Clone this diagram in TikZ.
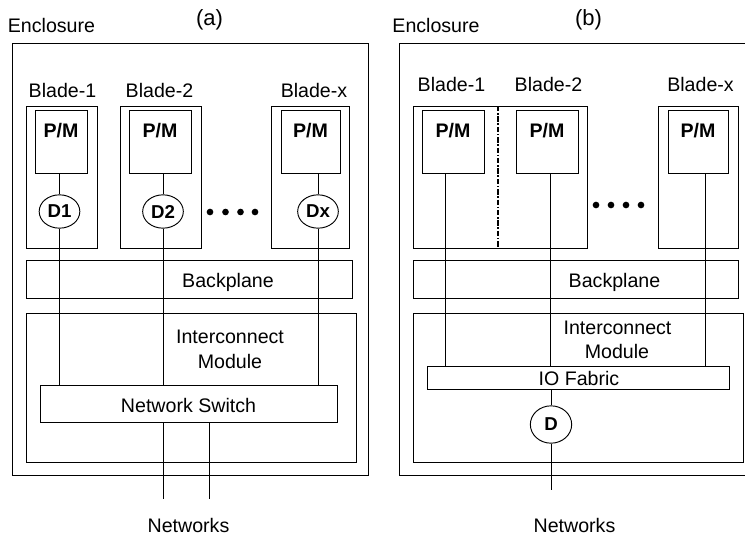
\documentclass[tikz,border=0pt]{standalone}
\usepackage{fontspec}
\setmainfont{Liberation Sans}
\usetikzlibrary{fit,shapes.geometric,calc}
\newcommand{\dfont}{\fontsize{14.7}{17.5}\selectfont}
\newcommand{\tfont}{\fontsize{16.5}{19}\selectfont}
\newcommand{\efont}{\fontsize{14}{16}\selectfont}
\begin{document}
\begin{tikzpicture}[x=0.75pt,y=-0.75pt,
  every node/.style={font=\dfont},
  line/.style={line width=0.7pt},
  box/.style={draw, line width=0.7pt, inner sep=0pt, fit={#1}},
  lbl/.style={anchor=base, inner sep=0pt},
  tlbl/.style={anchor=base, inner sep=0pt, font=\tfont},
  blbl/.style={anchor=base, inner sep=0pt, font=\dfont\bfseries},
  dnode/.style={draw, ellipse, line width=0.7pt, inner sep=0pt, minimum width=30.5pt, minimum height=25pt, font=\efont\bfseries, fill=white},
  dotn/.style={circle, fill=black, inner sep=0pt, minimum size=5pt},
  sep/.style={line width=1.1pt, dash pattern=on 4pt off 1.3pt on 1.2pt off 1.3pt}
]
\useasboundingbox (0,0) rectangle (745,536);

% ================= (a) =================
\node[lbl] (enca) at (51.5,32) {Enclosure};
\node[tlbl] (tita) at (209.5,25) {(a)};
\node[box={(12,43) (368,475)}] (encla) {};

\node[lbl] (bl1a) at (62.5,97) {Blade-1};
\node[lbl] (bl2a) at (159.5,97) {Blade-2};
\node[lbl] (blxa) at (314,97) {Blade-x};

\node[box={(26,106) (97,248)}] (b1a) {};
\node[box={(120,106) (201,248)}] (b2a) {};
\node[box={(271,106) (349,248)}] (bxa) {};

\node[box={(35,110) (87,173)}] (pm1a) {};
\node[box={(129,110) (191,173)}] (pm2a) {};
\node[box={(281,110) (340,173)}] (pmxa) {};
\node[blbl] (pm1at) at (61,137) {P/M};
\node[blbl] (pm2at) at (160,137) {P/M};
\node[blbl] (pmxat) at (310.5,137) {P/M};

\node[dnode] (d1) at (59.5,211.5) {D1};
\node[dnode] (d2) at (163,211.5) {D2};
\node[dnode] (dx) at (318,211.5) {Dx};

\node[dotn] (da1) at (210,212) {};
\node[dotn] (da2) at (225.5,212) {};
\node[dotn] (da3) at (240.5,212) {};
\node[dotn] (da4) at (255,212) {};

\node[box={(26,260) (352,298)}] (bpa) {};
\node[lbl] (bpat) at (228,287) {Backplane};

\node[box={(26,313) (356,462)}] (ima) {};
\node[lbl] (imat1) at (230,343) {Interconnect};
\node[lbl] (imat2) at (230,368) {Module};

\node[box={(40,385) (337,422)}] (nsa) {};
\node[lbl] (nsat) at (188.5,412) {Network Switch};

\node[lbl] (neta) at (188.5,532) {Networks};
\coordinate (na1) at (163,499);
\coordinate (na2) at (209,499);

\draw[line] (d1.north |- pm1a.south) -- (d1.north);
\draw[line] (d2.north |- pm2a.south) -- (d2.north);
\draw[line] (dx.north |- pmxa.south) -- (dx.north);
\draw[line] (d1.south) -- (d1.south |- nsa.north);
\draw[line] (d2.south) -- (d2.south |- nsa.north);
\draw[line] (dx.south) -- (dx.south |- nsa.north);
\draw[line] (na1 |- nsa.south) -- (na1);
\draw[line] (na2 |- nsa.south) -- (na2);

% ================= (b) =================
\node[lbl] (encb) at (436,32) {Enclosure};
\node[tlbl] (titb) at (588.5,25) {(b)};
\node[box={(399,43) (770,475)}] (enclb) {};

\node[lbl] (bl1b) at (451.5,91) {Blade-1};
\node[lbl] (bl2b) at (548.5,91) {Blade-2};
\node[lbl] (blxb) at (700.5,91) {Blade-x};

\node[box={(413,106) (587,248)}] (b12b) {};
\node[box={(658,106) (738,248)}] (bxb) {};
\coordinate (sept) at (498,106);
\coordinate (sepb) at (498,248);
\draw[sep] (sept) -- (sepb);

\node[box={(422,110) (484,173)}] (pm1b) {};
\node[box={(516,110) (578,173)}] (pm2b) {};
\node[box={(668,110) (728,173)}] (pmxb) {};
\node[blbl] (pm1bt) at (453,137) {P/M};
\node[blbl] (pm2bt) at (547,137) {P/M};
\node[blbl] (pmxbt) at (698,137) {P/M};

\node[dotn] (db1) at (596,205) {};
\node[dotn] (db2) at (611,205) {};
\node[dotn] (db3) at (626,205) {};
\node[dotn] (db4) at (641,205) {};

\node[box={(413,260) (738,298)}] (bpb) {};
\node[lbl] (bpbt) at (614.5,287) {Backplane};

\node[box={(413,313) (743,462)}] (imb) {};
\node[lbl] (imbt1) at (617.5,334) {Interconnect};
\node[lbl] (imbt2) at (617,358) {Module};

\node[box={(427,366) (729,389)}] (iob) {};
\node[lbl] (iobt) at (579,385) {IO Fabric};

\node[dnode, minimum width=31pt, minimum height=28pt] (db) at (551,424.5) {D};
\node[lbl] (netb) at (574.5,532) {Networks};
\coordinate (nb) at (551,490);

\coordinate (l1) at (445,0);
\coordinate (l2) at (550,0);
\coordinate (l3) at (705,0);
\draw[line] (l1 |- pm1b.south) -- (l1 |- iob.north);
\draw[line] (l2 |- pm2b.south) -- (l2 |- iob.north);
\draw[line] (l3 |- pmxb.south) -- (l3 |- iob.north);
\draw[line] (db.north |- iob.south) -- (db.north);
\draw[line] (db.south) -- (nb);
\end{tikzpicture}
\end{document}
